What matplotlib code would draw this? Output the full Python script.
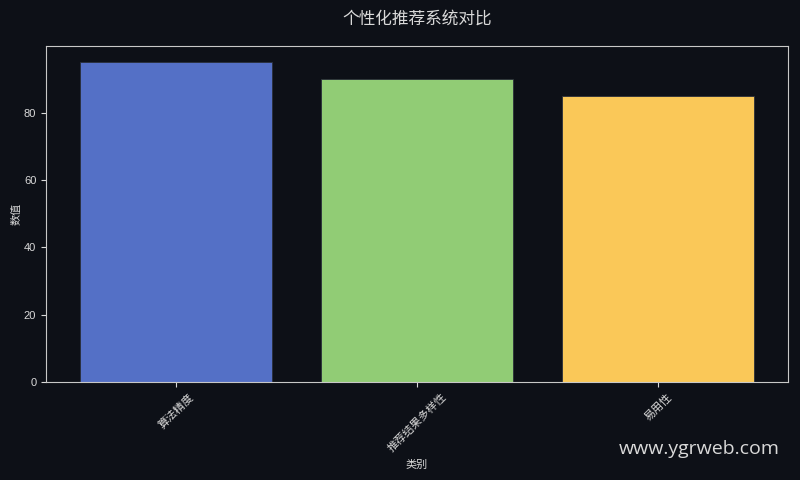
import matplotlib
matplotlib.use('Agg')
import matplotlib.pyplot as plt

plt.rcParams['font.family'] = ['Liberation Sans', 'Noto Sans CJK SC', 'DejaVu Sans']

# data
categories = ['算法精度', '推荐结果多样性', '易用性']
values = [95, 90, 85]
colors = ['#5470c6', '#91cc75', '#fac858']

bg = '#0d1017'
fg = '#d9d9d9'

fig, ax = plt.subplots(figsize=(8, 4.8), dpi=100)
fig.patch.set_facecolor(bg)
ax.set_facecolor(bg)

ax.bar(categories, values, color=colors, edgecolor='#2a2f3a', linewidth=0.6, width=0.8)

ax.set_title('个性化推荐系统对比', color=fg, fontsize=12, pad=16,
             family=['Noto Sans CJK SC', 'DejaVu Sans'])
ax.set_xlabel('类别', color=fg, fontsize=8)
ax.set_ylabel('数值', color=fg, fontsize=8, labelpad=2)
ax.tick_params(colors=fg, labelsize=8)
plt.setp(ax.get_xticklabels(), rotation=45)
for s in ax.spines.values():
    s.set_color('#c8c8c8')

fig.subplots_adjust(left=0.0575, right=0.985, top=0.904, bottom=0.204)
fig.text(0.975, 0.045, 'www.ygrweb.com', color=fg, fontsize=14,
         ha='right', va='bottom', family=['Open Sans', 'DejaVu Sans'])

plt.savefig('out.png', dpi=100, facecolor=bg)
